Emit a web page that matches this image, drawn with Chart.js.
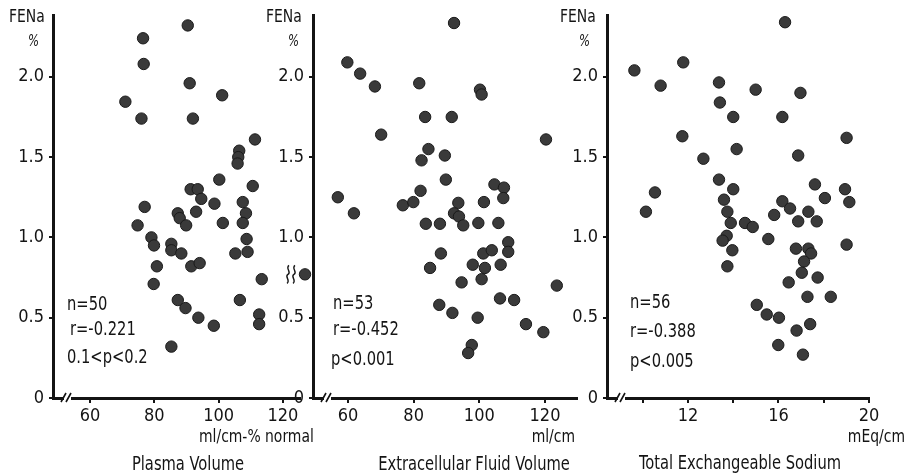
<!DOCTYPE html>
<html>
<head>
<meta charset="utf-8">
<script src="https://cdn.jsdelivr.net/npm/chart.js@4.4.0/dist/chart.umd.min.js"></script>
<style>
  html, body { margin: 0; padding: 0; background: #ffffff; }
  #wrap { position: relative; width: 910px; height: 475px; }
  canvas { position: absolute; left: 0; top: 0; }
</style>
</head>
<body>
<div id="wrap">
  <canvas id="c1" width="910" height="475"></canvas>
  <canvas id="c2" width="910" height="475"></canvas>
  <canvas id="c3" width="910" height="475"></canvas>
</div>
<script>
// ---------- DATA ----------
const yTicks = [0, 0.5, 1.0, 1.5, 2.0];

// Plasma Volume (ml/cm-% normal) vs FENa (%)
const pvX = [90.4, 76.5, 76.7, 91.0, 101.1, 71.0, 76.0, 92.0, 111.3, 106.4, 106.1, 105.9, 100.2, 110.6, 91.3, 93.5, 94.6, 98.7, 107.5, 77.0, 87.3, 87.9, 93.0, 108.5, 74.8, 89.9, 101.3, 107.5, 79.1, 79.9, 85.3, 85.3, 88.4, 108.7, 109.0, 105.2, 80.8, 91.5, 94.1, 113.4, 79.8, 87.3, 89.7, 106.6, 93.7, 98.5, 112.6, 112.6, 85.3];
const pvY = [2.32, 2.24, 2.08, 1.96, 1.885, 1.845, 1.74, 1.74, 1.61, 1.54, 1.50, 1.46, 1.36, 1.32, 1.30, 1.30, 1.24, 1.21, 1.22, 1.19, 1.15, 1.12, 1.16, 1.15, 1.075, 1.075, 1.09, 1.09, 1.00, 0.95, 0.96, 0.92, 0.90, 0.99, 0.91, 0.90, 0.82, 0.82, 0.84, 0.74, 0.71, 0.61, 0.56, 0.61, 0.50, 0.45, 0.52, 0.46, 0.32];
const pvTicks = [60, 80, 100, 120];

// Extracellular Fluid Volume (ml/cm) vs FENa (%)
const ecfX = [92.3, 59.8, 63.7, 68.2, 81.7, 100.2, 100.7, 83.5, 91.6, 70.1, 120.3, 84.5, 82.4, 89.5, 89.8, 82.1, 104.6, 107.5, 107.3, 56.9, 61.8, 76.7, 79.9, 93.6, 101.4, 92.3, 93.8, 83.7, 88.0, 95.1, 99.7, 105.8, 108.8, 108.8, 101.2, 103.8, 88.3, 85.0, 98.0, 101.7, 106.5, 100.7, 94.6, 123.6, 87.8, 91.8, 99.5, 106.3, 110.6, 114.2, 119.5, 97.7, 96.6];
const ecfY = [2.335, 2.09, 2.02, 1.94, 1.96, 1.92, 1.89, 1.75, 1.75, 1.64, 1.61, 1.55, 1.48, 1.51, 1.36, 1.29, 1.33, 1.31, 1.245, 1.25, 1.15, 1.20, 1.22, 1.215, 1.22, 1.15, 1.13, 1.085, 1.085, 1.075, 1.09, 1.09, 0.97, 0.91, 0.90, 0.92, 0.90, 0.81, 0.83, 0.81, 0.83, 0.74, 0.72, 0.70, 0.58, 0.53, 0.50, 0.62, 0.61, 0.46, 0.41, 0.33, 0.28];
// off-scale (broken axis) value shown left of the y axis
const ecfOffX = [46.9];
const ecfOffY = [0.77];
const ecfTicks = [60, 80, 100, 120];

// Total Exchangeable Sodium (mEq/cm) vs FENa (%)
const tesX = [16.29, 9.63, 11.79, 10.79, 13.37, 14.99, 16.97, 13.41, 14.00, 16.17, 11.75, 19.01, 14.15, 12.68, 16.87, 13.37, 14.00, 17.61, 18.94, 10.54, 13.59, 16.17, 16.51, 18.05, 19.13, 10.14, 13.74, 15.81, 17.32, 13.89, 14.52, 14.86, 16.87, 17.69, 13.71, 15.55, 13.53, 13.96, 16.77, 17.32, 17.44, 17.13, 17.03, 17.73, 13.74, 16.45, 17.28, 18.31, 15.04, 15.48, 16.02, 16.80, 17.40, 15.99, 17.08, 19.01];
const tesY = [2.34, 2.04, 2.09, 1.945, 1.965, 1.92, 1.90, 1.84, 1.75, 1.75, 1.63, 1.62, 1.55, 1.49, 1.51, 1.36, 1.30, 1.33, 1.30, 1.28, 1.235, 1.225, 1.18, 1.245, 1.22, 1.16, 1.16, 1.14, 1.16, 1.09, 1.09, 1.065, 1.10, 1.10, 1.01, 0.99, 0.98, 0.92, 0.93, 0.93, 0.90, 0.85, 0.78, 0.75, 0.82, 0.72, 0.63, 0.63, 0.58, 0.52, 0.50, 0.42, 0.46, 0.33, 0.27, 0.955];
const tesTicks = [10, 12, 14, 16, 18, 20];
const tesLabeled = [12, 16, 20];

// ---------- STYLE ----------
const FONT = "'DejaVu Sans Condensed', 'Liberation Sans Narrow', 'DejaVu Sans', sans-serif";
const INK = '#141414';
const DOT_FILL = '#3a3a3a';
const DOT_EDGE = '#1a1a1a';
const DOT_R = 5.7;
const SQUEEZE = 0.86;

const textPlugin = {
  id: 'panelText',
  afterDraw(chart, args, opts) {
    const ctx = chart.ctx;
    const a = chart.chartArea;
    ctx.save();
    // x-axis break "//"
    const bx = a.left + opts.breakOffset;
    ctx.fillStyle = '#ffffff';
    ctx.fillRect(bx - 3, a.bottom - 4, 7, 8);
    ctx.strokeStyle = INK;
    ctx.lineWidth = 1.6;
    ctx.beginPath();
    ctx.moveTo(bx - 6, a.bottom + 4); ctx.lineTo(bx - 1, a.bottom - 5);
    ctx.moveTo(bx - 1, a.bottom + 4); ctx.lineTo(bx + 4, a.bottom - 5);
    ctx.stroke();
    // off-scale points (placed through the chart's own scales)
    if (opts.offX) {
      const xs = chart.scales.x, ys = chart.scales.y;
      opts.offX.forEach((v, i) => {
        const px = xs.getPixelForValue(v), py = ys.getPixelForValue(opts.offY[i]);
        ctx.beginPath();
        ctx.arc(px, py, DOT_R, 0, Math.PI * 2);
        ctx.fillStyle = DOT_FILL; ctx.fill();
        ctx.lineWidth = 1; ctx.strokeStyle = DOT_EDGE; ctx.stroke();
        // break squiggles to the left of the point
        ctx.strokeStyle = INK;
        ctx.lineWidth = 1.4;
        [-17, -11].forEach(dx => {
          const x0 = px + dx;
          ctx.beginPath();
          ctx.moveTo(x0 + 1, py - 9);
          ctx.bezierCurveTo(x0 - 3, py - 6, x0 + 4, py - 2, x0, py);
          ctx.bezierCurveTo(x0 - 4, py + 2, x0 + 3, py + 6, x0 - 1, py + 9);
          ctx.stroke();
        });
      });
    }
    ctx.fillStyle = INK;
    ctx.textBaseline = 'middle';
    opts.items.forEach(it => {
      ctx.save();
      ctx.font = (it.style || '') + ' ' + it.size + 'px ' + FONT;
      ctx.textAlign = it.align || 'left';
      ctx.translate(it.x, it.y);
      ctx.scale(SQUEEZE, 1);
      ctx.fillText(it.t, 0, 0);
      ctx.restore();
    });
    ctx.restore();
  }
};

function makePanel(id, p) {
  const pts = p.x.map((v, i) => ({ x: v, y: p.y[i] }));
  return new Chart(document.getElementById(id), {
    type: 'scatter',
    data: { datasets: [{
      data: pts,
      pointRadius: DOT_R,
      pointHoverRadius: DOT_R,
      backgroundColor: DOT_FILL,
      borderColor: DOT_EDGE,
      borderWidth: 1,
      clip: false
    }] },
    options: {
      responsive: false,
      animation: false,
      events: [],
      layout: { padding: { left: p.left - 50, right: 910 - p.right, top: 10, bottom: 0 } },
      plugins: {
        legend: { display: false },
        tooltip: { enabled: false },
        panelText: { items: p.items, breakOffset: p.breakOffset, offX: p.offX, offY: p.offY }
      },
      scales: {
        x: {
          type: 'linear', min: p.xmin, max: p.xmax,
          afterFit: s => { s.height = 77; },
          afterBuildTicks: s => { s.ticks = p.ticks.map(v => ({ value: v })); },
          grid: { display: true, drawOnChartArea: false, tickLength: 5, color: INK, lineWidth: 2 },
          border: { display: true, color: INK, width: 3 },
          ticks: {
            autoSkip: false, maxRotation: 0, padding: 3, color: INK,
            font: { family: FONT, size: 18 },
            callback: v => (p.labeled ? (p.labeled.includes(v) ? String(v) : '') : String(v))
          }
        },
        y: {
          type: 'linear', min: 0, max: 2.38,
          afterFit: s => { s.width = 50; },
          afterBuildTicks: s => { s.ticks = yTicks.map(v => ({ value: v })); },
          grid: { display: true, drawOnChartArea: false, tickLength: 4, color: INK, lineWidth: 2 },
          border: { display: true, color: INK, width: 3 },
          ticks: {
            padding: 5, color: INK,
            font: { family: FONT, size: 18 },
            callback: v => (v === 0 ? '0' : v.toFixed(1))
          }
        }
      }
    },
    plugins: [textPlugin]
  });
}

makePanel('c1', {
  x: pvX, y: pvY, ticks: pvTicks, xmin: 48.5, xmax: 125.3, left: 53, right: 300, breakOffset: 14,
  items: [
    { t: 'FENa', x: 9, y: 17, size: 18 },
    { t: '%', x: 28, y: 42, size: 15, style: 'italic' },
    { t: 'n=50', x: 67, y: 305, size: 19 },
    { t: 'r=-0.221', x: 70, y: 330, size: 19 },
    { t: '0.1<p<0.2', x: 67, y: 358, size: 19 },
    { t: 'ml/cm-% normal', x: 199, y: 437, size: 18 },
    { t: 'Plasma Volume', x: 188, y: 465, size: 19, align: 'center' }
  ]
});

makePanel('c2', {
  x: ecfX, y: ecfY, ticks: ecfTicks, xmin: 49.34, xmax: 129.75, left: 313, right: 577, breakOffset: 14,
  offX: ecfOffX, offY: ecfOffY,
  items: [
    { t: 'FENa', x: 266, y: 17, size: 18 },
    { t: '%', x: 288, y: 42, size: 15, style: 'italic' },
    { t: 'n=53', x: 333, y: 304, size: 19 },
    { t: 'r=-0.452', x: 333, y: 330, size: 19 },
    { t: 'p<0.001', x: 331, y: 360, size: 19 },
    { t: 'ml/cm', x: 575, y: 437, size: 18, align: 'right' },
    { t: 'Extracellular Fluid Volume', x: 474, y: 465, size: 19, align: 'center' }
  ]
});

makePanel('c3', {
  x: tesX, y: tesY, ticks: tesTicks, labeled: tesLabeled, xmin: 8.42, xmax: 20, left: 607, right: 869, breakOffset: 14,
  items: [
    { t: 'FENa', x: 560, y: 17, size: 18 },
    { t: '%', x: 579, y: 42, size: 15, style: 'italic' },
    { t: 'n=56', x: 630, y: 303, size: 19 },
    { t: 'r=-0.388', x: 630, y: 332, size: 19 },
    { t: 'p<0.005', x: 630, y: 362, size: 19 },
    { t: 'mEq/cm', x: 905, y: 437, size: 18, align: 'right' },
    { t: 'Total Exchangeable Sodium', x: 740, y: 464, size: 19, align: 'center' }
  ]
});
</script>
</body>
</html>
